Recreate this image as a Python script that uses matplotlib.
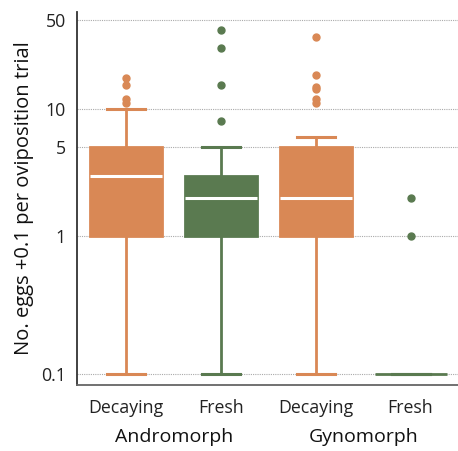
import numpy as np
import matplotlib.pyplot as plt
from matplotlib.ticker import FixedLocator, FixedFormatter
import matplotlib.transforms as mtransforms

plt.rcParams['font.family'] = ['Open Sans', 'DejaVu Sans']

# values (no. eggs + 0.1)
labels = ['Decaying', 'Fresh', 'Decaying', 'Fresh']
groups = ['Andromorph', 'Gynomorph']
q1 = [1.0, 1.0, 1.0, 0.1]
med = [3.0, 2.0, 2.0, 0.1]
q3 = [5.0, 3.0, 5.0, 0.1]
whislo = [0.1, 0.1, 0.1, 0.1]
whishi = [10.0, 5.0, 6.0, 0.1]
fliers = [
    [17.5, 15.4, 12.1, 11.1],
    [42.0, 30.0, 15.4, 8.0],
    [37.0, 18.5, 15.0, 14.3, 12.1, 11.1],
    [2.0, 1.0],
]
yticks = [0.1, 1, 5, 10, 50]

orange = '#D98855'
green = '#5A7A50'
colors = [orange, green, orange, green]

# axis is a bit stretched below 1 in the original
k = 1.081
def fwd(v):
    v = np.clip(np.asarray(v, dtype=float), 1e-12, None)
    lv = np.log10(v)
    return np.where(lv < 0, lv * k, lv)

def inv(u):
    u = np.asarray(u, dtype=float)
    return np.where(u < 0, 10 ** (u / k), 10 ** u)

fig = plt.figure(figsize=(4.58, 4.51), dpi=100)
ax = fig.add_axes([77 / 458, 1 - 385 / 451, 1 - 77 / 458, 373 / 451])
ax.set_yscale('function', functions=(fwd, inv))

stats = []
for i in range(len(labels)):
    stats.append(dict(med=med[i], q1=q1[i], q3=q3[i], whislo=whislo[i],
                      whishi=whishi[i], fliers=fliers[i], label=labels[i]))

pos = np.arange(len(labels))
bp = ax.bxp(stats, positions=pos, widths=0.76, patch_artist=True,
            showfliers=True, capwidths=0.4)

for i, c in enumerate(colors):
    bp['boxes'][i].set_facecolor(c)
    bp['boxes'][i].set_edgecolor(c)
    bp['boxes'][i].set_linewidth(2)
    for w in bp['whiskers'][2 * i:2 * i + 2]:
        w.set_color(c)
        w.set_linewidth(2)
    for cp in bp['caps'][2 * i:2 * i + 2]:
        cp.set_color(c)
        cp.set_linewidth(2.2)
    bp['medians'][i].set_color('white')
    bp['medians'][i].set_linewidth(2.2)
    f = bp['fliers'][i]
    f.set_marker('o')
    f.set_markerfacecolor(c)
    f.set_markeredgecolor(c)
    f.set_markersize(5)
bp['medians'][3].set_visible(False)

ax.set_xlim(-0.52, 3.5)
ax.set_ylim(0.083, 58)

ax.yaxis.set_major_locator(FixedLocator(yticks))
ax.yaxis.set_major_formatter(FixedFormatter(['0.1', '1', '5', '10', '50']))
ax.yaxis.set_minor_locator(FixedLocator([]))
ax.grid(axis='y', linestyle=(0, (1, 1)), color='#AAAAAA', linewidth=0.8)
ax.set_axisbelow(True)

ax.set_xticks(pos)
ax.set_xticklabels(labels)
ax.tick_params(axis='x', length=0, pad=10, labelsize=12.8, labelcolor='#222222')
ax.tick_params(axis='y', length=0, pad=8, labelsize=12.8, labelcolor='#222222')

for s in ['top', 'right']:
    ax.spines[s].set_visible(False)
ax.spines['left'].set_color('#333333')
ax.spines['bottom'].set_color('#666666')
ax.spines['left'].set_linewidth(1.3)
ax.spines['bottom'].set_linewidth(1.3)

ax.set_ylabel('No. eggs +0.1 per oviposition trial', fontsize=14.5,
              color='#111111', labelpad=5)

trans = mtransforms.blended_transform_factory(ax.transData, ax.transAxes)
ax.text(0.5, -0.139, groups[0], transform=trans, ha='center', va='center',
        fontsize=14, color='#111111')
ax.text(2.5, -0.139, groups[1], transform=trans, ha='center', va='center',
        fontsize=14, color='#111111')

fig.savefig('out.png', dpi=100)
